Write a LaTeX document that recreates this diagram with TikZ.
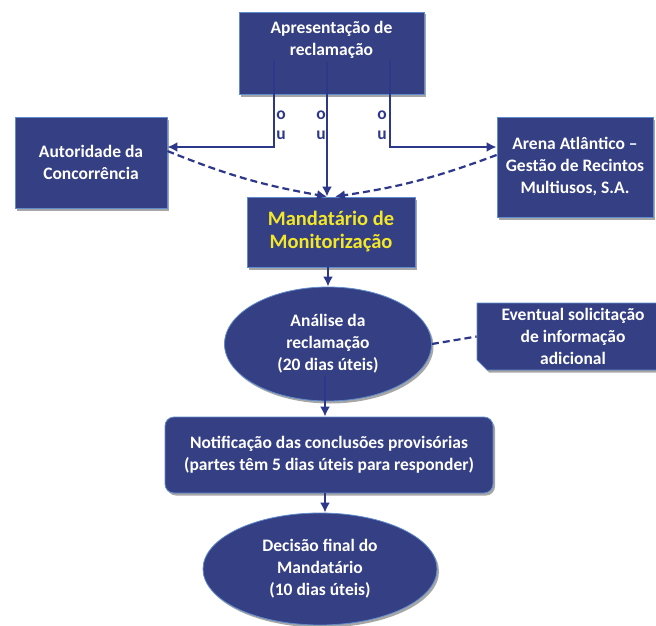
\documentclass[tikz,border=0pt]{standalone}
\usepackage{fontspec}
\setmainfont{Carlito}
\usetikzlibrary{shapes.geometric,shapes.misc,arrows.meta,shadows}

\definecolor{navyfill}{RGB}{53,63,131}
\definecolor{navyedge}{RGB}{96,140,205}
\definecolor{navyline}{RGB}{45,56,138}
\definecolor{mandyellow}{RGB}{242,232,40}

\tikzset{
  navybox/.style={draw=navyedge, line width=0.8pt, fill=navyfill, text=white,
    font=\bfseries\fontsize{17.5}{22}\selectfont, align=center, inner sep=0pt,
    drop shadow={shadow xshift=2pt, shadow yshift=-2.5pt, opacity=0.35, fill=black}},
  navyoval/.style={navybox, ellipse},
  navytext/.style={text=white, font=\bfseries\fontsize{17.5}{22}\selectfont, align=center, inner sep=0pt},
  flowline/.style={draw=navyline, line width=2.2pt},
  flowarrow/.style={flowline, -{Latex[length=10pt,width=10pt]}},
  dasharrow/.style={flowarrow, dash pattern={on 7pt off 4pt}},
  oulabel/.style={text=navyline, font=\bfseries\fontsize{17.5}{20}\selectfont, align=center, inner sep=0pt}
}

\begin{document}
\begin{tikzpicture}[x=1pt,y=-1pt]
\path[use as bounding box] (0,0) rectangle (656,626);
\clip (0,0) rectangle (656,626);

%Shape: Rectangle
\node[navybox, minimum width=185, minimum height=82] (apres) at (331.5,53) {};
% Text Node
\node[navytext] (apresT) at (331.5,40) {Apresentação de\\reclamação};
%Shape: Rectangle
\node[navybox, minimum width=152, minimum height=91] (autor) at (91,162.5) {Autoridade da\\Concorrência};
%Shape: Rectangle
\node[navybox, minimum width=156, minimum height=100] (arena) at (575,167) {Arena Atlântico –\\Gestão de Recintos\\Multiusos, S.A.};
%Shape: Rectangle
\node[navybox, minimum width=168, minimum height=70, text=mandyellow,
  font=\bfseries\fontsize{20.5}{23}\selectfont] (mandat) at (331,232) {Mandatário de\\Monitorização};
%Shape: Ellipse
\node[navyoval, minimum width=207, minimum height=114] (analise) at (328,344) {Análise da\\reclamação\\(20 dias úteis)};
%Shape: Snip Rectangle
\node[navybox, chamfered rectangle, chamfered rectangle corners=south west,
  chamfered rectangle xsep=7pt, minimum width=192, minimum height=67] (eventual) at (573,336.5)
  {Eventual solicitação\\de informação\\adicional};
%Shape: Rounded Rectangle
\node[navybox, rounded corners=9pt, minimum width=328, minimum height=76] (notif) at (329,455)
  {Notificação das conclusões provisórias\\(partes têm 5 dias úteis para responder)};
%Shape: Ellipse
\node[navyoval, minimum width=234, minimum height=112] (decisao) at (320,569) {Decisão final do\\Mandatário\\(10 dias úteis)};

%Straight Lines
\coordinate (ouL) at (274,60);
\coordinate (ouM) at (327,62);
\coordinate (ouR) at (390,60);
\coordinate (bendL) at (274,147);
\coordinate (bendR) at (390,147);
\draw[flowarrow] (ouL) -- (bendL) -- (bendL -| autor.east);
\draw[flowarrow] (ouM) -- (ouM |- mandat.north);
\draw[flowarrow] (ouR) -- (bendR) -- (bendR -| arena.west);

% Text Node
\node[oulabel] (ouLT) at (281,125) {o\\u};
\node[oulabel] (ouMT) at (321,125) {o\\u};
\node[oulabel] (ouRT) at (382,125) {o\\u};

%Dashed Curves
\draw[dasharrow] (autor.east |- 0,151) to[bend right=6] ([xshift=-4pt]mandat.north);
\draw[dasharrow] (arena.west |- 0,155) to[bend left=6] ([xshift=4pt]mandat.north);
\draw[flowline, dash pattern={on 7pt off 4pt}] (analise.east) -- (eventual.west);

%Straight Lines
\draw[flowarrow] (mandat.south -| analise.north) -- (analise.north);
\draw[flowarrow] ([yshift=25pt]analise.south -| 325,0) -- (325,0 |- notif.north);
\draw[flowarrow] (notif.south -| 325,0) -- (325,0 |- decisao.north);
\end{tikzpicture}
\end{document}
